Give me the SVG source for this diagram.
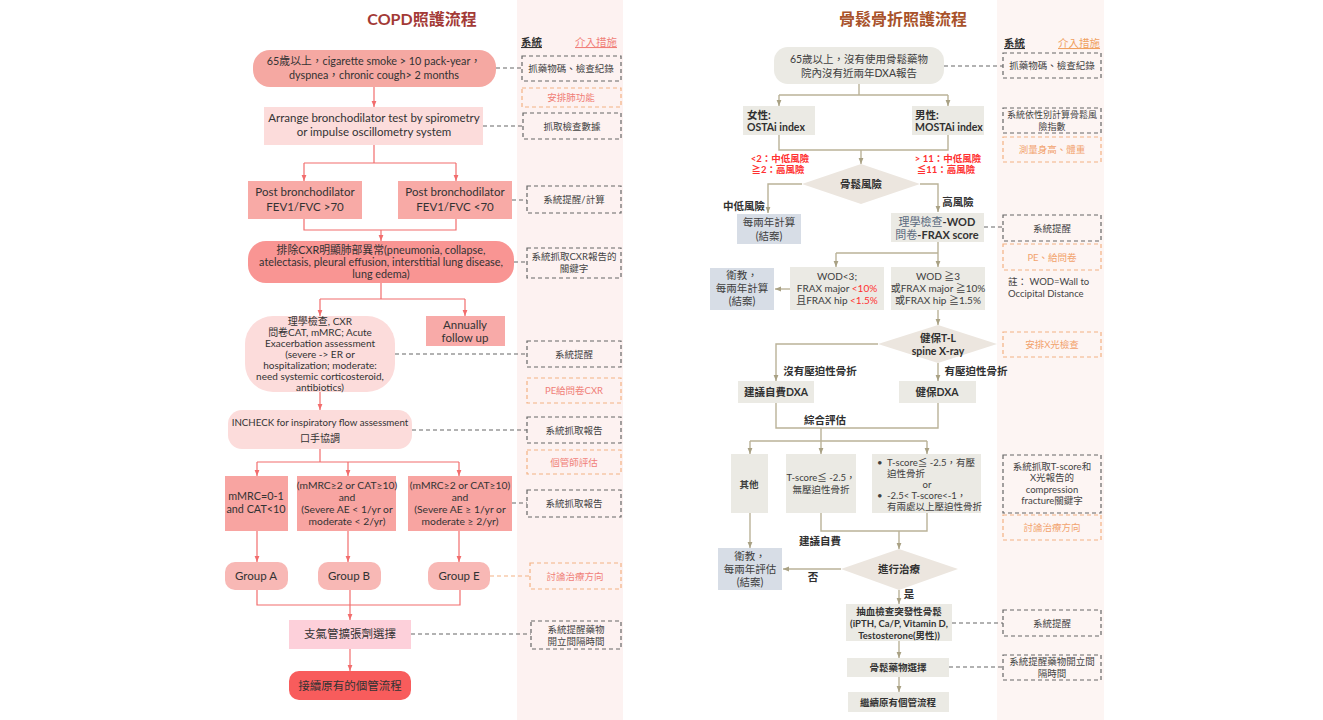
<svg xmlns="http://www.w3.org/2000/svg" width="1323" height="720" viewBox="0 0 1323 720">
<style>
text{font-family:"Lato","Noto Sans CJK TC",sans-serif;}
.t{font-size:11.5px;fill:#333;text-anchor:middle;}
.t2{font-size:10.8px;fill:#333;text-anchor:middle;}
.ts{font-size:10px;fill:#333;text-anchor:middle;}
.sb{font-size:9.5px;fill:#444;text-anchor:middle;}
.so{font-size:9.5px;fill:#f07f78;text-anchor:middle;}
.sor{font-size:9.5px;fill:#f2a36e;text-anchor:middle;}
.bx{fill:none;stroke:#666;stroke-width:1.2;stroke-dasharray:4 3;}
.bo{fill:none;stroke:#f4b183;stroke-width:1.2;stroke-dasharray:4 3;}
.dl{fill:none;stroke:#666;stroke-width:1.1;stroke-dasharray:4 3;}
.dlo{fill:none;stroke:#f4b183;stroke-width:1.1;stroke-dasharray:4 3;}
.cl{fill:none;stroke:#f26d6d;stroke-width:1.2;}
.cr{fill:none;stroke:#bab298;stroke-width:1.4;}
.rt{font-size:10.5px;fill:#404040;text-anchor:middle;}
.rb{font-size:10.5px;fill:#303030;text-anchor:middle;font-weight:bold;}
.red{fill:#ff3030;}
.g{fill:#ebeae4;}
.bl{fill:#d7dde6;}
</style>
<defs>
<marker id="al" viewBox="0 0 10 10" refX="10" refY="5" markerWidth="6" markerHeight="6" markerUnits="userSpaceOnUse" orient="auto"><path d="M0,1 L10,5 L0,9z" fill="#f26d6d"/></marker>
<marker id="ar" viewBox="0 0 10 10" refX="10" refY="5" markerWidth="6" markerHeight="6" markerUnits="userSpaceOnUse" orient="auto"><path d="M0,1 L10,5 L0,9z" fill="#a9a184"/></marker>
</defs>
<rect width="1323" height="720" fill="#fff"/>
<rect x="517" y="0" width="106" height="720" fill="#fdf2f1"/>
<rect x="997" y="0" width="107" height="720" fill="#fdf5f3"/>

<!-- Titles / headers -->
<text x="422" y="25" style="font-size:16px;font-weight:bold;fill:#a33a36;text-anchor:middle">COPD照護流程</text>
<text x="903" y="25" style="font-size:16px;font-weight:bold;fill:#a8522a;text-anchor:middle">骨鬆骨折照護流程</text>
<text x="521" y="46" style="font-size:10.5px;font-weight:bold;fill:#333;text-decoration:underline">系統</text>
<text x="575" y="46" style="font-size:10.5px;fill:#f07f78;text-decoration:underline">介入措施</text>
<text x="1004" y="47" style="font-size:10.5px;font-weight:bold;fill:#333;text-decoration:underline">系統</text>
<text x="1058" y="47" style="font-size:10.5px;fill:#f0a060;text-decoration:underline">介入措施</text>

<!-- Connectors -->
<g id="connectors">
<path class="cl" d="M374,87 V107" marker-end="url(#al)"/>
<path class="cl" d="M374,145 V163 M304,163 H456"/>
<path class="cl" d="M304,163 V181" marker-end="url(#al)"/>
<path class="cl" d="M456,163 V181" marker-end="url(#al)"/>
<path class="cl" d="M304,219 V230 H456 V219"/>
<path class="cl" d="M381,230 V241" marker-end="url(#al)"/>
<path class="cl" d="M381,283 V299 M320,299 H465"/>
<path class="cl" d="M320,299 V316" marker-end="url(#al)"/>
<path class="cl" d="M465,299 V316" marker-end="url(#al)"/>
<path class="cl" d="M320,392 V410" marker-end="url(#al)"/>
<path class="cl" d="M320,449 V462 M257,462 H459"/>
<path class="cl" d="M257,462 V476" marker-end="url(#al)"/>
<path class="cl" d="M348,462 V476" marker-end="url(#al)"/>
<path class="cl" d="M459,462 V476" marker-end="url(#al)"/>
<path class="cl" d="M257,531 V562" marker-end="url(#al)"/>
<path class="cl" d="M348,531 V562" marker-end="url(#al)"/>
<path class="cl" d="M459,531 V562" marker-end="url(#al)"/>
<path class="cl" d="M257,590 V605 H460 V590 M350,590 V605"/>
<path class="cl" d="M350,605 V620" marker-end="url(#al)"/>
<path class="cl" d="M350,649 V671" marker-end="url(#al)"/>

<path class="dl" d="M496,68 H522 M483,126 H523 M512,200 H527 M514,262 H527 M395,354 H527 M412,430 H527 M512,503 H527 M411,634 H531"/>
<path class="dlo" d="M490,576 H530"/>

<path class="cr" d="M859,84 V95 M779,95 H948"/>
<path class="cr" d="M779,95 V106" marker-end="url(#ar)"/>
<path class="cr" d="M948,95 V106" marker-end="url(#ar)"/>
<path class="cr" d="M779,135 V150 H948 V135"/>
<path class="cr" d="M861,150 V164" marker-end="url(#ar)"/>
<path class="cr" d="M802,184 H768 V213" marker-end="url(#ar)"/>
<path class="cr" d="M920,184 H938 V212" marker-end="url(#ar)"/>
<path class="cr" d="M938,242 V253 M836,253 H938"/>
<path class="cr" d="M836,253 V267" marker-end="url(#ar)"/>
<path class="cr" d="M938,253 V267" marker-end="url(#ar)"/>
<path class="cr" d="M790,289 H775" marker-end="url(#ar)"/>
<path class="cr" d="M938,310 V325" marker-end="url(#ar)"/>
<path class="cr" d="M878,344 H776 V381" marker-end="url(#ar)"/>
<path class="cr" d="M938,363 V381" marker-end="url(#ar)"/>
<path class="cr" d="M776,403 V428 H938 V403 M821,428 V441 M750,441 H927"/>
<path class="cr" d="M750,441 V454" marker-end="url(#ar)"/>
<path class="cr" d="M821,441 V454" marker-end="url(#ar)"/>
<path class="cr" d="M927,441 V454" marker-end="url(#ar)"/>
<path class="cr" d="M750,513 V548" marker-end="url(#ar)"/>
<path class="cr" d="M821,513 V531 H927 V513"/>
<path class="cr" d="M899,531 V549" marker-end="url(#ar)"/>
<path class="cr" d="M841,569 H783" marker-end="url(#ar)"/>
<path class="cr" d="M899,590 V604" marker-end="url(#ar)"/>
<path class="cr" d="M899,641 V658" marker-end="url(#ar)"/>
<path class="cr" d="M899,677 V692" marker-end="url(#ar)"/>

<path class="dl" d="M944,66 H1003 M984,227 H1003 M952,623 H1003 M949,667 H1003"/>
</g>

<!-- Left flow nodes -->
<g id="l-start">
<rect x="253" y="50" width="243" height="37" rx="17" fill="#f5a8a2"/>
<text class="t2" x="374" y="65">65歲以上，cigarette smoke &gt; 10 pack-year，</text>
<text class="t2" x="374" y="79">dyspnea，chronic cough&gt; 2 months</text>
</g>
<g id="l-arrange">
<rect x="264" y="107" width="219" height="38" fill="#fcdcdb"/>
<text class="t" x="374" y="122">Arrange bronchodilator test by spirometry</text>
<text class="t" x="374" y="136">or impulse oscillometry system</text>
</g>
<g id="l-post1">
<rect x="248" y="181" width="114" height="38" fill="#f8aaa6"/>
<text class="t" x="305" y="196">Post bronchodilator</text>
<text class="t" x="305" y="211">FEV1/FVC &gt;70</text>
</g>
<g id="l-post2">
<rect x="398" y="181" width="114" height="38" fill="#f8aaa6"/>
<text class="t" x="455" y="196">Post bronchodilator</text>
<text class="t" x="455" y="211">FEV1/FVC &lt;70</text>
</g>
<g id="l-cxr">
<rect x="248" y="241" width="266" height="42" rx="18" fill="#f99593"/>
<text class="t2" x="381" y="254">排除CXR明顯肺部異常(pneumonia, collapse,</text>
<text class="t2" x="381" y="266">atelectasis, pleural effusion, interstitial lung disease,</text>
<text class="t2" x="381" y="278">lung edema)</text>
</g>
<g id="l-exam">
<rect x="245" y="316" width="150" height="76" rx="28" fill="#fcdcdb"/>
<text class="ts" x="320" y="325">理學檢查, CXR</text>
<text class="ts" x="320" y="336">問卷CAT, mMRC; Acute</text>
<text class="ts" x="320" y="347">Exacerbation assessment</text>
<text class="ts" x="320" y="358">(severe -&gt; ER or</text>
<text class="ts" x="320" y="369">hospitalization; moderate:</text>
<text class="ts" x="320" y="380">need systemic corticosteroid,</text>
<text class="ts" x="320" y="391">antibiotics)</text>
</g>
<g id="l-annual">
<rect x="426" y="316" width="79" height="30" fill="#f8aaa8"/>
<text class="t" x="465" y="329">Annually</text>
<text class="t" x="465" y="342">follow up</text>
</g>
<g id="l-incheck">
<rect x="228" y="410" width="184" height="39" rx="14" fill="#fcdcdb"/>
<text class="ts" x="320" y="426" style="font-size:9.7px">INCHECK for inspiratory flow assessment</text>
<text class="ts" x="320" y="442">口手協調</text>
</g>
<g id="l-a">
<rect x="225" y="476" width="63" height="55" fill="#f8a4a1"/>
<text class="t2" x="256" y="500">mMRC=0-1</text>
<text class="t2" x="256" y="513">and CAT&lt;10</text>
</g>
<g id="l-b" style="font-size:10.5px">
<rect x="297" y="476" width="99" height="55" fill="#f8a4a1"/>
<text class="t" style="font-size:10.3px" x="347" y="489">(mMRC≥2 or CAT≥10)</text>
<text class="t" style="font-size:10.3px" x="347" y="501">and</text>
<text class="t" style="font-size:10.3px" x="347" y="513">(Severe AE &lt; 1/yr or</text>
<text class="t" style="font-size:10.3px" x="347" y="525">moderate &lt; 2/yr)</text>
</g>
<g id="l-e">
<rect x="408" y="476" width="104" height="55" fill="#f8a4a1"/>
<text class="t" style="font-size:10.3px" x="460" y="489">(mMRC≥2 or CAT≥10)</text>
<text class="t" style="font-size:10.3px" x="460" y="501">and</text>
<text class="t" style="font-size:10.3px" x="460" y="513">(Severe AE ≥ 1/yr or</text>
<text class="t" style="font-size:10.3px" x="460" y="525">moderate ≥ 2/yr)</text>
</g>
<g id="l-ga">
<rect x="225" y="562" width="63" height="28" rx="10" fill="#f8b8b5"/>
<text class="t" x="256" y="580">Group A</text>
</g>
<g id="l-gb">
<rect x="318" y="562" width="63" height="28" rx="10" fill="#f8b8b5"/>
<text class="t" x="349" y="580">Group B</text>
</g>
<g id="l-ge">
<rect x="428" y="562" width="62" height="28" rx="10" fill="#f8b8b5"/>
<text class="t" x="459" y="580">Group E</text>
</g>
<g id="l-bd">
<rect x="289" y="620" width="122" height="29" fill="#fdd0da"/>
<text class="t" x="350" y="638">支氣管擴張劑選擇</text>
</g>
<g id="l-end">
<rect x="289" y="671" width="122" height="29" rx="10" fill="#f85c5c"/>
<text class="t" x="350" y="690">接續原有的個管流程</text>
</g>

<!-- Left sidebar boxes -->
<g id="ls1"><rect class="bx" x="522" y="56" width="99" height="25"/><text class="sb" x="571" y="72">抓藥物碼、檢查紀錄</text></g>
<g id="ls2"><rect class="bo" x="522" y="88" width="99" height="19"/><text class="so" x="571" y="101">安排肺功能</text></g>
<g id="ls3"><rect class="bx" x="523" y="113" width="98" height="26"/><text class="sb" x="572" y="130">抓取檢查數據</text></g>
<g id="ls4"><rect class="bx" x="527" y="186" width="94" height="27"/><text class="sb" x="574" y="203">系統提醒/計算</text></g>
<g id="ls5"><rect class="bx" x="527" y="248" width="94" height="30"/><text class="sb" x="574" y="260">系統抓取CXR報告的</text><text class="sb" x="574" y="272">關鍵字</text></g>
<g id="ls6"><rect class="bx" x="527" y="341" width="94" height="26"/><text class="sb" x="574" y="358">系統提醒</text></g>
<g id="ls7"><rect class="bo" x="527" y="378" width="94" height="25"/><text class="so" x="574" y="394">PE給問卷CXR</text></g>
<g id="ls8"><rect class="bx" x="527" y="417" width="94" height="26"/><text class="sb" x="574" y="434">系統抓取報告</text></g>
<g id="ls9"><rect class="bo" x="527" y="450" width="94" height="24"/><text class="so" x="574" y="466">個管師評估</text></g>
<g id="ls10"><rect class="bx" x="527" y="490" width="94" height="27"/><text class="sb" x="574" y="507">系統抓取報告</text></g>
<g id="ls11"><rect class="bo" x="530" y="563" width="91" height="26"/><text class="so" x="575" y="580">討論治療方向</text></g>
<g id="ls12"><rect class="bx" x="531" y="621" width="90" height="28"/><text class="sb" x="576" y="633">系統提醒藥物</text><text class="sb" x="576" y="645">開立間隔時間</text></g>

<!-- Right flow nodes -->
<g id="r-start">
<rect x="774" y="47" width="170" height="37" rx="14" class="g"/>
<text class="rt" x="859" y="63">65歲以上，沒有使用骨鬆藥物</text>
<text class="rt" x="859" y="77">院內沒有近兩年DXA報告</text>
</g>
<g id="r-f">
<rect x="743" y="106" width="72" height="29" class="g"/>
<text class="rb" x="747" y="119" style="text-anchor:start">女性:</text>
<text class="rb" x="747" y="131" style="text-anchor:start">OSTAi index</text>
</g>
<g id="r-m">
<rect x="912" y="106" width="72" height="29" class="g"/>
<text class="rb" x="915" y="119" style="text-anchor:start">男性:</text>
<text class="rb" x="915" y="131" style="text-anchor:start">MOSTAi index</text>
</g>
<g id="r-crit" style="font-size:9.5px;font-weight:bold">
<text class="red" x="780" y="162" style="text-anchor:middle">&lt;2：中低風險</text>
<text class="red" x="778" y="173" style="text-anchor:middle">≧2：高風險</text>
<text class="red" x="948" y="162" style="text-anchor:middle">&gt; 11：中低風險</text>
<text class="red" x="946" y="173" style="text-anchor:middle">≦11：高風險</text>
</g>
<g id="r-risk">
<polygon points="861,164 920,184 861,204 802,184" fill="#ece6df"/>
<text class="rb" x="861" y="188">骨鬆風險</text>
</g>
<text class="rb" x="744" y="210">中低風險</text>
<text class="rb" x="958" y="206">高風險</text>
<g id="r-low1">
<rect x="737" y="214" width="64" height="30" class="bl"/>
<text class="rt" x="769" y="226">每兩年計算</text>
<text class="rt" x="769" y="240">(結案)</text>
</g>
<g id="r-wod">
<rect x="891" y="213" width="93" height="29" class="g"/>
<text x="937" y="226" style="font-size:11px;text-anchor:middle;fill:#5b6a80"><tspan>理學檢查</tspan><tspan style="font-weight:bold;fill:#333">-WOD</tspan></text>
<text x="937" y="239" style="font-size:11px;text-anchor:middle;fill:#5b6a80"><tspan>問卷</tspan><tspan style="font-weight:bold;fill:#333">-FRAX score</tspan></text>
</g>
<g id="r-low2">
<rect x="710" y="268" width="64" height="42" class="bl"/>
<text class="rt" x="742" y="279">衛教，</text>
<text class="rt" x="742" y="292">每兩年計算</text>
<text class="rt" x="742" y="305">(結案)</text>
</g>
<g id="r-wod1">
<rect x="790" y="267" width="94" height="43" class="g"/>
<text class="rt" x="837" y="280" style="font-size:10px">WOD&lt;3;</text>
<text class="rt" x="837" y="292" style="font-size:10px">FRAX major <tspan class="red">&lt;10%</tspan></text>
<text class="rt" x="837" y="304" style="font-size:10px">且FRAX hip <tspan class="red">&lt;1.5%</tspan></text>
</g>
<g id="r-wod2">
<rect x="891" y="267" width="94" height="43" class="g"/>
<text class="rt" x="938" y="280" style="font-size:10px">WOD ≧3</text>
<text class="rt" x="938" y="292" style="font-size:10px">或FRAX major ≧10%</text>
<text class="rt" x="938" y="304" style="font-size:10px">或FRAX hip ≧1.5%</text>
</g>
<g id="r-xray">
<polygon points="938,325 997,344 938,363 878,344" fill="#ece6df"/>
<text class="rb" x="938" y="342">健保T-L</text>
<text class="rb" x="938" y="355">spine X-ray</text>
</g>
<text class="rb" x="820" y="375">沒有壓迫性骨折</text>
<text class="rb" x="976" y="375">有壓迫性骨折</text>
<g id="r-dxa1">
<rect x="738" y="381" width="76" height="22" class="g"/>
<text class="rb" x="776" y="396">建議自費DXA</text>
</g>
<g id="r-dxa2">
<rect x="899" y="381" width="77" height="22" class="g"/>
<text class="rb" x="937" y="396">健保DXA</text>
</g>
<text class="rb" x="825" y="424">綜合評估</text>
<g id="r-other">
<rect x="731" y="454" width="37" height="59" class="g"/>
<text class="rt" x="749" y="488" style="font-size:9.5px;font-weight:bold">其他</text>
</g>
<g id="r-ts1">
<rect x="786" y="454" width="70" height="59" class="g"/>
<text class="rt" x="821" y="481" style="font-size:9.5px">T-score≦ -2.5，</text>
<text class="rt" x="821" y="493" style="font-size:9.5px">無壓迫性骨折</text>
</g>
<g id="r-ts2" style="font-size:9.5px;fill:#404040">
<rect x="872" y="454" width="109" height="59" class="g"/>
<text x="877" y="466">•</text>
<text x="887" y="466">T-score≦ -2.5，有壓</text>
<text x="887" y="477">迫性骨折</text>
<text x="927" y="488" style="text-anchor:middle">or</text>
<text x="877" y="499">•</text>
<text x="887" y="499">-2.5&lt; T-score&lt;-1，</text>
<text x="887" y="510">有兩處以上壓迫性骨折</text>
</g>
<text class="rb" x="820" y="545">建議自費</text>
<g id="r-low3">
<rect x="718" y="548" width="64" height="42" class="bl"/>
<text class="rt" x="750" y="560">衛教，</text>
<text class="rt" x="750" y="573">每兩年評估</text>
<text class="rt" x="750" y="586">(結案)</text>
</g>
<g id="r-treat">
<polygon points="899,549 958,569 899,590 841,569" fill="#ece6df"/>
<text class="rb" x="899" y="573">進行治療</text>
</g>
<text class="rb" x="813" y="581">否</text>
<text class="rb" x="909" y="598">是</text>
<g id="r-blood" style="font-size:9.5px;font-weight:bold;fill:#333">
<rect x="846" y="604" width="106" height="37" class="g"/>
<text x="899" y="615" style="text-anchor:middle">抽血檢查突發性骨鬆</text>
<text x="899" y="627" style="text-anchor:middle">(iPTH, Ca/P, Vitamin D,</text>
<text x="899" y="639" style="text-anchor:middle">Testosterone(男性))</text>
</g>
<g id="r-drug">
<rect x="847" y="658" width="102" height="19" class="g"/>
<text x="898" y="671" style="font-size:9.5px;font-weight:bold;fill:#333;text-anchor:middle">骨鬆藥物選擇</text>
</g>
<g id="r-end">
<rect x="848" y="692" width="101" height="20" class="g"/>
<text x="898" y="706" style="font-size:9.5px;font-weight:bold;fill:#333;text-anchor:middle">繼續原有個管流程</text>
</g>

<!-- Right sidebar boxes -->
<g id="rs1"><rect class="bx" x="1003" y="53" width="98" height="25"/><text class="sb" x="1052" y="69">抓藥物碼、檢查紀錄</text></g>
<g id="rs2"><rect class="bx" x="1003" y="108" width="98" height="25"/><text class="sb" x="1052" y="118" style="font-size:9px">系統依性別計算骨鬆風</text><text class="sb" x="1052" y="130" style="font-size:9px">險指數</text></g>
<g id="rs3"><rect class="bo" x="1003" y="137" width="98" height="25"/><text class="sor" x="1052" y="153">測量身高、體重</text></g>
<g id="rs4"><rect class="bx" x="1003" y="215" width="98" height="26"/><text class="sb" x="1052" y="232">系統提醒</text></g>
<g id="rs5"><rect class="bo" x="1003" y="244" width="98" height="26"/><text class="sor" x="1052" y="261">PE、給問卷</text></g>
<text x="1008" y="285" style="font-size:9.5px;fill:#444">註： WOD=Wall to</text>
<text x="1008" y="297" style="font-size:9.5px;fill:#444">Occipital Distance</text>
<g id="rs6"><rect class="bo" x="1003" y="332" width="98" height="25"/><text class="sor" x="1052" y="348">安排X光檢查</text></g>
<g id="rs7"><rect class="bx" x="1003" y="455" width="98" height="58"/>
<text class="sb" x="1052" y="470">系統抓取T-score和</text>
<text class="sb" x="1052" y="481">X光報告的</text>
<text class="sb" x="1052" y="493">compression</text>
<text class="sb" x="1052" y="504">fracture關鍵字</text></g>
<g id="rs8"><rect class="bo" x="1003" y="515" width="98" height="25"/><text class="sor" x="1052" y="531">討論治療方向</text></g>
<g id="rs9"><rect class="bx" x="1003" y="610" width="98" height="26"/><text class="sb" x="1052" y="627">系統提醒</text></g>
<g id="rs10"><rect class="bx" x="1003" y="655" width="98" height="25"/><text class="sb" x="1052" y="665">系統提醒藥物開立間</text><text class="sb" x="1052" y="677">隔時間</text></g>
</svg>
